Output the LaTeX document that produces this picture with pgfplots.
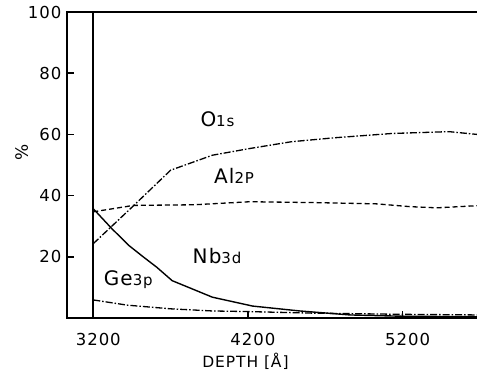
\documentclass[border=0pt]{standalone}
\usepackage{fontspec}
\setmainfont[LetterSpace=6]{DejaVu Sans}
\usepackage{pgfplots}
\pgfplotsset{compat=1.18}
\begin{document}
\begin{tikzpicture}
\begin{axis}[
  scale only axis, width=413pt, height=306pt,
  xmin=3030, xmax=5700, ymin=0, ymax=100,
  axis line style={line width=2.2pt},
  xtick pos=bottom, ytick pos=left,
  tick align=inside,
  major tick length=7pt,
  tick style={line width=1.6pt, black},
  xtick={3200,4200,5200}, ytick={20,40,60,80,100},
  /pgf/number format/assume math mode=true,
  /pgf/number format/set thousands separator={},
  tick label style={font=\fontsize{16.5}{16.5}\selectfont},
  xticklabel style={yshift=-12pt, xshift=5pt},
  yticklabel style={xshift=-2pt},
  xlabel={DEPTH [Å]},
  xlabel style={font=\fontsize{15.5}{15.5}\selectfont, at={(axis description cs:0.432,-0.14)}, anchor=center},
  ylabel={\%},
  ylabel style={font=\fontsize{17}{17}\selectfont, at={(axis description cs:-0.11,0.54)}, anchor=center},
  clip=false,
]
% vertical boundary line
\addplot[black, line width=2pt] coordinates {(3200,0) (3200,100)};
% Nb3d solid
\addplot[black, line width=1.4pt] coordinates {
(3200,35.7) (3320,29.2) (3430,23.7) (3525,19.9) (3610,16.6) (3710,12.2)
(3840,9.5) (3970,6.8) (4230,3.9) (4535,2.3) (4860,1.0) (5180,0.6) (5680,0.4)};
% Al2p dashed
\addplot[black, line width=1.3pt, dash pattern=on 5pt off 3pt] coordinates {
(3200,34.7) (3460,36.8) (3850,37.0) (4213,38) (4645,37.7) (5032,37.3)
(5245,36.4) (5420,36) (5680,36.7)};
% O1s dash-dot
\addplot[black, line width=1.3pt, dash pattern=on 7pt off 2pt on 1.5pt off 2pt] coordinates {
(3200,24.3) (3452,36.3) (3700,48.3) (3970,53.2) (4213,55.4) (4480,57.6)
(4760,58.9) (5130,60.3) (5500,60.9) (5680,60)};
% Ge3p dash-dot
\addplot[black, line width=1.3pt, dash pattern=on 7pt off 2pt on 1.5pt off 2pt] coordinates {
(3200,5.9) (3420,4.2) (3700,3) (3970,2.3) (4200,2.1) (4610,1.6) (5200,1.2) (5680,1.0)};
% labels
\node at (axis cs:4003,65) {{\fontsize{20}{20}\selectfont O}{\fontsize{15}{15}\selectfont 1s}};
\node at (axis cs:4110,46.4) {{\fontsize{20}{20}\selectfont Al}{\fontsize{15}{15}\selectfont 2P}};
\node at (axis cs:4000,20.3) {{\fontsize{20}{20}\selectfont Nb}{\fontsize{15}{15}\selectfont 3d}};
\node at (axis cs:3426,12.5) {{\fontsize{20}{20}\selectfont Ge}{\fontsize{15}{15}\selectfont 3p}};
\end{axis}
\pgfresetboundingbox
\path (-67pt,-55pt) rectangle (410pt,318pt);
\end{tikzpicture}
\end{document}
